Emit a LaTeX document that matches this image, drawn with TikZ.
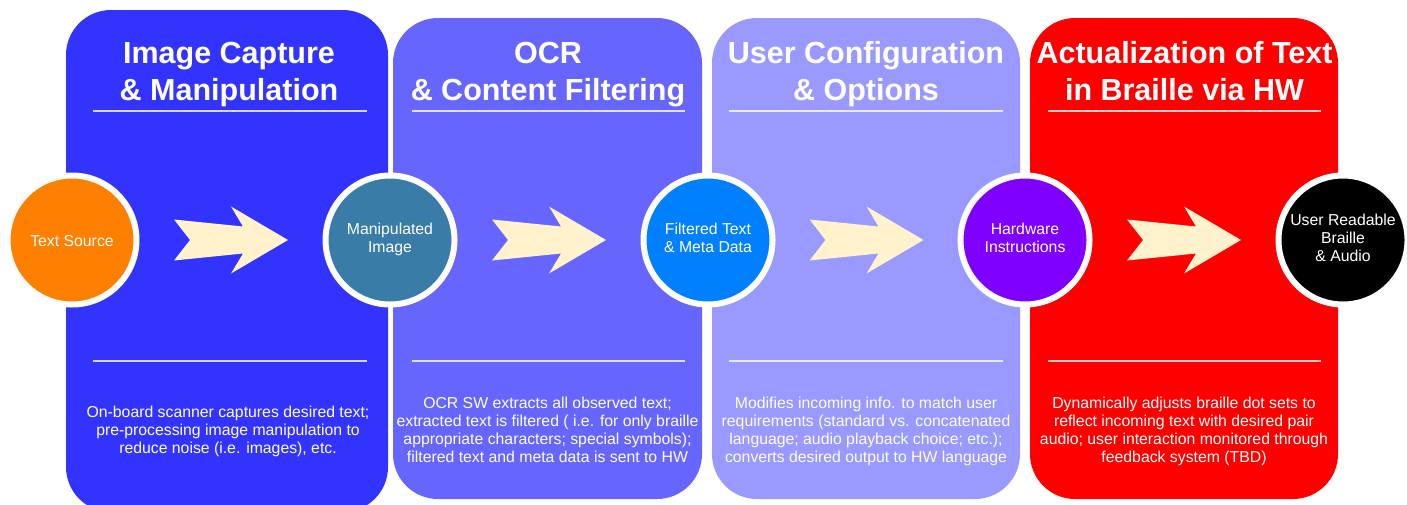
\documentclass[tikz,border=0pt]{standalone}
\usepackage{fontspec}
\setmainfont{Liberation Sans}
\usepackage{xcolor}
\usepackage{tikz}
\usetikzlibrary{calc}

\definecolor{painelA}{HTML}{3333FF}
\definecolor{painelB}{HTML}{6666FF}
\definecolor{painelC}{HTML}{9999FF}
\definecolor{painelD}{HTML}{FF0000}
\definecolor{laranja}{HTML}{FF8000}
\definecolor{petroleo}{HTML}{3A7CA8}
\definecolor{azul}{HTML}{0080FF}
\definecolor{roxo}{HTML}{7F00FF}
\definecolor{creme}{HTML}{FFF2CC}

\tikzset{
  painel/.style={rectangle, rounded corners=45pt, inner sep=0pt},
  titulo/.style={text=white, align=center, inner sep=0pt,
    font=\bfseries\fontsize{30.5}{37}\selectfont,
    execute at begin node=\strut, execute at end node=\strut},
  texto/.style={text=white, align=center, inner sep=0pt,
    font=\fontsize{15.8}{18}\selectfont,
    execute at begin node=\strut, execute at end node=\strut},
  circulo/.style={circle, draw=white, line width=6pt, minimum size=129pt,
    inner sep=0pt, text=white, align=center,
    font=\fontsize{15.8}{18}\selectfont,
    execute at begin node={\rule{0pt}{17.6pt}}, execute at end node=\strut},
  regua/.style={draw=white, draw opacity=0.8, line width=2.5pt},
  seta/.pic={\fill[creme] (-57,-20.5) -- (-41,0) -- (-57,20.5) -- (12,13.5)
    -- (0,33.5) -- (57,0) -- (0,-33.5) -- (12,-13.5) -- cycle;}
}

\begin{document}
\begin{tikzpicture}[x=1pt, y=-1pt]
    \useasboundingbox (0,0) rectangle (1407,504);

    % Paineis
    \node[painel, fill=painelA, minimum width=322pt, minimum height=502pt] (captura) at (227,261) {};
    \node[painel, fill=painelB, minimum width=309pt, minimum height=481pt] (ocr) at (547.5,258.5) {};
    \node[painel, fill=painelC, minimum width=308pt, minimum height=481pt] (config) at (866,258.5) {};
    \node[painel, fill=painelD, minimum width=308pt, minimum height=481pt] (braille) at (1184,258.5) {};

    % Titulos
    \node[titulo] (tcaptura) at (229,76.6) {Image Capture\\\& Manipulation};
    \node[titulo] (tocr) at (548,76.6) {OCR\\\& Content Filtering};
    \node[titulo] (tconfig) at (866,76.6) {User Configuration\\\& Options};
    \node[titulo] (tbraille) at (1184.5,76.6) {Actualization of Text\\in Braille via HW};

    % Reguas
    \draw[regua] (93,111) -- (367,111);
    \draw[regua] (412,111) -- (685,111);
    \draw[regua] (729,111) -- (1003,111);
    \draw[regua] (1048,111) -- (1321,111);
    \draw[regua] (93,361) -- (367,361);
    \draw[regua] (412,361) -- (685,361);
    \draw[regua] (729,361) -- (1003,361);
    \draw[regua] (1048,361) -- (1321,361);

    % Descricoes
    \node[texto] (dcaptura) at (228,432) {On-board scanner captures desired text;\\pre-processing image manipulation to\\reduce noise (i.e. images), etc.};
    \node[texto] (docr) at (547.5,432) {OCR SW extracts all observed text;\\extracted text is filtered ( i.e. for only braille\\appropriate characters; special symbols);\\filtered text and meta data is sent to HW};
    \node[texto] (dconfig) at (866,432) {Modifies incoming info. to match user\\requirements (standard vs. concatenated\\language; audio playback choice; etc.);\\converts desired output to HW language};
    \node[texto] (dbraille) at (1184,432) {Dynamically adjusts braille dot sets to\\reflect incoming text with desired pair\\audio; user interaction monitored through\\feedback system (TBD)};

    % Circulos
    \node[circulo, fill=laranja] (fonte) at (72,240) {Text Source};
    \node[circulo, fill=petroleo] (manipulada) at (390,240) {Manipulated\\Image};
    \node[circulo, fill=azul] (filtrada) at (708,240) {Filtered Text\\\& Meta Data};
    \node[circulo, fill=roxo] (hardware) at (1025,240) {Hardware\\Instructions};
    \node[circulo, fill=black] (saida) at (1343,240) {User Readable\\Braille\\\& Audio};

    % Setas
    \pic at ($(fonte)!0.5!(manipulada)$) {seta};
    \pic at ($(manipulada)!0.5!(filtrada)$) {seta};
    \pic at ($(filtrada)!0.5!(hardware)$) {seta};
    \pic at ($(hardware)!0.5!(saida)$) {seta};
\end{tikzpicture}
\end{document}
